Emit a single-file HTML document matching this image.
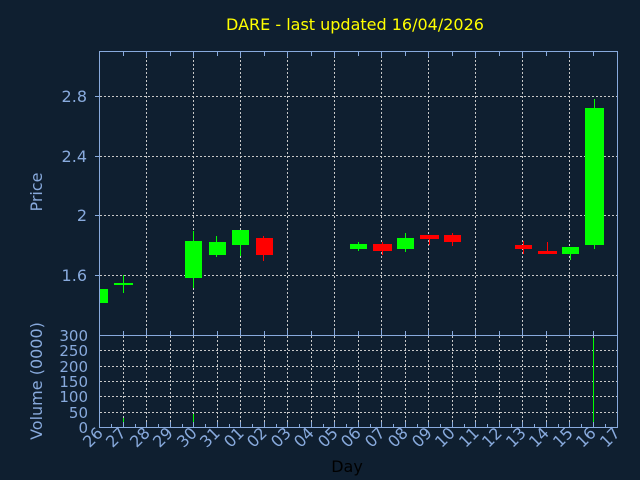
<!DOCTYPE html>
<html><head><meta charset="utf-8"><style>
html,body{margin:0;padding:0;background:#0f1f30;}
svg{display:block;font-family:"DejaVu Sans","Liberation Sans",sans-serif;}
</style></head><body>
<svg width="640" height="480" viewBox="0 0 640 480" xmlns="http://www.w3.org/2000/svg">
<rect width="640" height="480" fill="#0f1f30"/>
<text x="355" y="30" fill="#ffff00" font-size="16" text-anchor="middle">DARE - last updated 16/04/2026</text>
<g stroke="#c8c8c8" stroke-width="1" stroke-dasharray="2,2" fill="none">
<path d="M146.5 52V335M193.5 52V335M240.5 52V335M287.5 52V335M334.5 52V335M381.5 52V335M428.5 52V335M475.5 52V335M522.5 52V335M569.5 52V335"/>
<path d="M100 96.5H617M100 156.5H617M100 215.5H617M100 275.5H617"/>
<path d="M123.5 336V427M146.5 336V427M170.5 336V427M193.5 336V427M217.5 336V427M240.5 336V427M264.5 336V427M287.5 336V427M311.5 336V427M334.5 336V427M358.5 336V427M381.5 336V427M405.5 336V427M428.5 336V427M452.5 336V427M475.5 336V427M499.5 336V427M522.5 336V427M546.5 336V427M569.5 336V427M593.5 336V427"/>
<path d="M100 350.5H617M100 366.5H617M100 381.5H617M100 396.5H617M100 412.5H617"/>
</g>
<g id="cs">
<rect x="99" y="289" width="9" height="14" fill="#00ff00"/>
<path d="M123.5 275V293" stroke="#00ff00"/><rect x="114" y="283" width="19" height="2" fill="#00ff00"/>
<path d="M193.5 231V288" stroke="#00ff00"/><rect x="185" y="241" width="17" height="37" fill="#00ff00"/>
<path d="M216.5 236V257" stroke="#00ff00"/><rect x="209" y="242" width="17" height="13" fill="#00ff00"/>
<path d="M240.5 230V256" stroke="#00ff00"/><rect x="232" y="230" width="17" height="15" fill="#00ff00"/>
<path d="M263.5 236V261" stroke="#ff0000"/><rect x="256" y="238" width="17" height="17" fill="#ff0000"/>
<path d="M358.5 242V251" stroke="#00ff00"/><rect x="350" y="244" width="17" height="5" fill="#00ff00"/>
<path d="M382.5 242V255" stroke="#ff0000"/><rect x="373" y="244" width="19" height="7" fill="#ff0000"/>
<path d="M405.5 233V252" stroke="#00ff00"/><rect x="397" y="238" width="17" height="11" fill="#00ff00"/>
<path d="M429.5 235V245" stroke="#ff0000"/><rect x="420" y="235" width="19" height="4" fill="#ff0000"/>
<path d="M452.5 233V246" stroke="#ff0000"/><rect x="444" y="235" width="17" height="7" fill="#ff0000"/>
<path d="M523.5 241V254" stroke="#ff0000"/><rect x="515" y="245" width="17" height="4" fill="#ff0000"/>
<path d="M547.5 242V254" stroke="#ff0000"/><rect x="538" y="251" width="19" height="3" fill="#ff0000"/>
<path d="M570.5 247V260" stroke="#00ff00"/><rect x="562" y="247" width="17" height="7" fill="#00ff00"/>
<path d="M594.5 99V249" stroke="#00ff00"/><rect x="585" y="108" width="19" height="137" fill="#00ff00"/>
</g>
<g stroke-width="1">
<path d="M123.5 418V427M193.5 414V427" stroke="#00ff00"/>
<path d="M217.5 424V427M240.5 422V427M358.5 423V427M405.5 422V427M569.5 423V427M593.5 338V427" stroke="#00ff00"/>
<path d="M264.5 424V427M381.5 425V427M428.5 426V427M452.5 423V427M546.5 426V427" stroke="#ff0000"/>
</g>
<g stroke="#88aadd" stroke-width="1" fill="none">
<rect x="99.5" y="51.5" width="518" height="284"/>
<rect x="99.5" y="335.5" width="518" height="92"/>
<path d="M123.5 52v4M146.5 52v5M170.5 52v4M193.5 52v5M217.5 52v4M240.5 52v5M264.5 52v4M287.5 52v5M311.5 52v4M334.5 52v5M358.5 52v4M381.5 52v5M405.5 52v4M428.5 52v5M452.5 52v4M475.5 52v5M499.5 52v4M522.5 52v5M546.5 52v4M569.5 52v5M593.5 52v4"/>
<path d="M123.5 335v-4M146.5 335v-5M170.5 335v-4M193.5 335v-5M217.5 335v-4M240.5 335v-5M264.5 335v-4M287.5 335v-5M311.5 335v-4M334.5 335v-5M358.5 335v-4M381.5 335v-5M405.5 335v-4M428.5 335v-5M452.5 335v-4M475.5 335v-5M499.5 335v-4M522.5 335v-5M546.5 335v-4M569.5 335v-5M593.5 335v-4"/>
<path d="M111.5 427v-3M135.5 427v-3M158.5 427v-3M182.5 427v-3M205.5 427v-3M229.5 427v-3M252.5 427v-3M276.5 427v-3M299.5 427v-3M323.5 427v-3M346.5 427v-3M370.5 427v-3M393.5 427v-3M417.5 427v-3M440.5 427v-3M464.5 427v-3M487.5 427v-3M511.5 427v-3M534.5 427v-3M558.5 427v-3M581.5 427v-3M605.5 427v-3"/>
<path d="M123.5 427v-5M146.5 427v-5M170.5 427v-5M193.5 427v-5M217.5 427v-5M240.5 427v-5M264.5 427v-5M287.5 427v-5M311.5 427v-5M334.5 427v-5M358.5 427v-5M381.5 427v-5M405.5 427v-5M428.5 427v-5M452.5 427v-5M475.5 427v-5M499.5 427v-5M522.5 427v-5M546.5 427v-5M569.5 427v-5M593.5 427v-5"/>
<path d="M95 96.5h5M95 156.5h5M95 215.5h5M95 275.5h5"/>
</g>
<g fill="#88aadd" font-size="16" text-anchor="end">
<text x="87" y="102">2.8</text>
<text x="87" y="162">2.4</text>
<text x="87" y="221">2</text>
<text x="87" y="281">1.6</text>
</g>
<g fill="#88aadd" font-size="15" text-anchor="end">
<text x="88" y="341">300</text>
<text x="88" y="356">250</text>
<text x="88" y="372">200</text>
<text x="88" y="387">150</text>
<text x="88" y="402">100</text>
<text x="88" y="418">50</text>
<text x="88" y="433">0</text>
</g>
<text transform="translate(42,192) rotate(-90)" fill="#88aadd" font-size="16" text-anchor="middle">Price</text>
<text transform="translate(42,381) rotate(-90)" fill="#88aadd" font-size="16" text-anchor="middle">Volume (0000)</text>
<g fill="#88aadd" font-size="16" text-anchor="end">
<text transform="translate(104,434) rotate(-45)">26</text>
<text transform="translate(127,434) rotate(-45)">27</text>
<text transform="translate(151,434) rotate(-45)">28</text>
<text transform="translate(174,434) rotate(-45)">29</text>
<text transform="translate(198,434) rotate(-45)">30</text>
<text transform="translate(221,434) rotate(-45)">31</text>
<text transform="translate(245,434) rotate(-45)">01</text>
<text transform="translate(268,434) rotate(-45)">02</text>
<text transform="translate(292,434) rotate(-45)">03</text>
<text transform="translate(315,434) rotate(-45)">04</text>
<text transform="translate(339,434) rotate(-45)">05</text>
<text transform="translate(362,434) rotate(-45)">06</text>
<text transform="translate(386,434) rotate(-45)">07</text>
<text transform="translate(409,434) rotate(-45)">08</text>
<text transform="translate(433,434) rotate(-45)">09</text>
<text transform="translate(456,434) rotate(-45)">10</text>
<text transform="translate(480,434) rotate(-45)">11</text>
<text transform="translate(503,434) rotate(-45)">12</text>
<text transform="translate(527,434) rotate(-45)">13</text>
<text transform="translate(550,434) rotate(-45)">14</text>
<text transform="translate(574,434) rotate(-45)">15</text>
<text transform="translate(597,434) rotate(-45)">16</text>
<text transform="translate(621,434) rotate(-45)">17</text>
</g>
<text x="347" y="472" fill="#000000" font-size="16" text-anchor="middle">Day</text>
</svg>
</body></html>
